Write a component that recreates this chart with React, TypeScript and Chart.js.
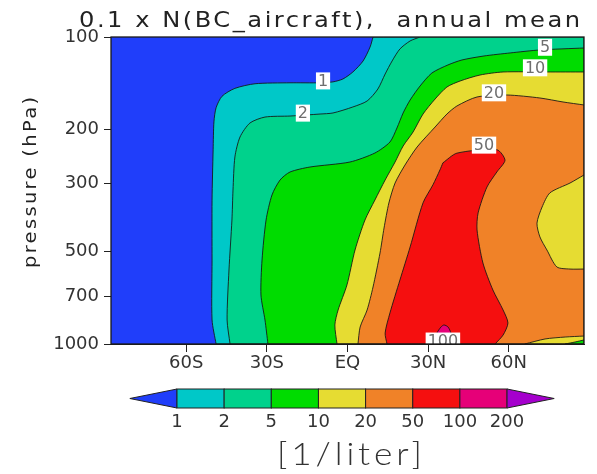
import React, { useEffect, useRef } from 'react';
import { Chart, registerables } from 'chart.js';

Chart.register(...registerables);

// ---------- axes ----------
const latMin = -88;
const latMax = 88;
const pTop = 100;
const pBottom = 1000;
const xTickValues = [-60, -30, 0, 30, 60];
const xTickLabels = ['60S', '30S', 'EQ', '30N', '60N'];
const yTickValues = [100, 200, 300, 500, 700, 1000];

// ---------- colour levels ----------
const levels = [1, 2, 5, 10, 20, 50, 100, 200];
const levelColors = [
  'rgb(32,62,250)',
  'rgb(0,200,200)',
  'rgb(0,210,140)',
  'rgb(0,220,0)',
  'rgb(230,220,50)',
  'rgb(240,130,40)',
  'rgb(245,15,15)',
  'rgb(230,0,120)',
  'rgb(165,0,205)',
];

// ---------- filled regions (latitude, hPa) ----------
const domainLat = [-88, 88, 88, -88];
const domainP = [100, 100, 1000, 1000];

const r1Lat = [9.5, 8.4, 5.8, 2.0, -1.7, -5.4, -10.2, -21.4, -34.4, -41.9, -46.7, -48.9, -49.7, -50.0, -50.4, -50.4, -50.4, -48.9, 88, 88];
const r1P = [100, 107.8, 119.7, 130, 137, 140, 141, 141, 142, 147, 156, 170, 189, 233, 340, 533, 835, 1000, 1000, 100];

const r2Lat = [27.0, 23.3, 19.5, 16.6, 14.0, 11.3, 7.3, 2.0, -5.4, -10.2, -21.4, -30.7, -36.3, -40.0, -41.9, -42.6, -43.0, -44.1, -44.8, -43.7, 88, 88];
const r2P = [100, 103, 109.4, 119.7, 132, 147.7, 161.6, 169, 176.8, 178.2, 180.9, 182.3, 190.6, 211.7, 245.9, 315.1, 394.6, 574.1, 835.3, 1000, 1000, 100];

const r5Lat = [88, 71.6, 60.5, 50.8, 42.6, 37.4, 31.4, 27.0, 23.3, 20.7, 18.4, 15.8, 10.2, 0.9, -14.0, -21.4, -25.1, -28.1, -30.3, -31.8, -32.2, -30.7, -29.6, 88];
const r5P = [108.6, 110.2, 112.7, 115.3, 118.8, 123.3, 131, 144.4, 160.4, 176.8, 197.9, 219.8, 238.7, 255.4, 265.2, 275.3, 292.3, 327.1, 394.6, 532.6, 692.6, 835.3, 1000, 1000];

const r10Lat = [88, 74.2, 57.9, 49.3, 41.9, 37.0, 32.6, 28.1, 24.4, 20.7, 17.7, 14.0, 10.2, 6.5, 2.8, -0.2, -3.5, -4.7, -3.9, 88];
const r10P = [130, 130, 130, 133, 139.1, 145.5, 159.2, 178.2, 203.9, 226.5, 255.4, 292.3, 339.6, 394.6, 494.2, 642, 775, 867, 1000, 1000];

const r20Lat = [88, 80.2, 71.6, 59.3, 48.2, 40.7, 37.0, 32.6, 25.9, 21.4, 17.7, 15.4, 13.6, 12.1, 9.5, 7.3, 4.7, 3.9, 88];
const r20P = [166.5, 162.8, 158, 154.5, 156.8, 167.8, 178.2, 196.4, 228.2, 261.2, 299, 347.3, 418.8, 505.4, 652.2, 774.9, 880.4, 1000, 1000];

const yellowBlobLat = [88, 82.8, 75.3, 72.4, 70.5, 71.6, 74.2, 77.9, 82.8, 88];
const yellowBlobP = [281.5, 299, 322, 358, 404, 448, 494, 561, 570, 570];

const yellowSliverLat = [66, 73.5, 81, 88, 88];
const yellowSliverP = [1000, 963, 949, 942, 1000];

const greenSliverLat = [81, 84.7, 88, 88];
const greenSliverP = [1000, 985, 970, 1000];

const r50Lat = [35.5, 40.7, 55.6, 58.6, 55.6, 51.9, 48.6, 48.2, 50.4, 54.1, 57.9, 59.7, 57.9, 54.9, 14.7, 14.0, 15.8, 19.5, 23.3, 28.1, 31.8, 34.4];
const r50P = [257, 239, 233, 252, 275, 308, 374, 425, 545, 667, 775, 854, 935, 1000, 1000, 921, 792, 619, 483, 347, 303, 271];

const r100Lat = [32.6, 33.3, 34.8, 35.9, 37.4, 38.5, 39.3];
const r100P = [1000, 921, 880, 867, 880, 921, 1000];

// ---------- contour labels ----------
const labelText = ['1', '2', '5', '10', '20', '50', '100'];
const labelLat = [-9.1, -16.6, 73.5, 69.8, 54.5, 50.8, 35.5];
const labelP = [139, 177, 108, 126, 152, 225, 978];

// ---------- texts ----------
const titleText = '0.1 x N(BC_aircraft),  annual mean';
const yTitleText = 'pressure (hPa)';
const unitText = '[1/liter]';

const regions = [
  { lat: domainLat, p: domainP, c: 0 },
  { lat: r1Lat, p: r1P, c: 1 },
  { lat: r2Lat, p: r2P, c: 2 },
  { lat: r5Lat, p: r5P, c: 3 },
  { lat: r10Lat, p: r10P, c: 4 },
  { lat: r20Lat, p: r20P, c: 5 },
  { lat: yellowBlobLat, p: yellowBlobP, c: 4 },
  { lat: yellowSliverLat, p: yellowSliverP, c: 4 },
  { lat: greenSliverLat, p: greenSliverP, c: 3 },
  { lat: r50Lat, p: r50P, c: 6 },
  { lat: r100Lat, p: r100P, c: 7 },
];

// a point lying on the frame keeps a sharp corner in the smoothed outline
const onFrame = (lat: number, p: number) =>
  lat <= latMin || lat >= latMax || p <= pTop || p >= pBottom;

function spacedText(ctx: CanvasRenderingContext2D, text: string, x: number, y: number, width: number, sx = 1) {
  const anyCtx = ctx as any;
  ctx.save();
  ctx.translate(x, y);
  ctx.scale(sx, 1);
  anyCtx.letterSpacing = '0px';
  const natural = ctx.measureText(text).width;
  const n = Array.from(text).length;
  const ls = n > 1 ? (width / sx - natural) / (n - 1) : 0;
  anyCtx.letterSpacing = ls.toFixed(2) + 'px';
  ctx.textAlign = 'left';
  ctx.fillText(text, 0, 0);
  anyCtx.letterSpacing = '0px';
  ctx.restore();
}

const decorPlugin = {
  id: 'decor',
  afterDatasetsDraw(chart: any) {
    const { ctx, chartArea: a, scales } = chart;
    const xs = scales.x;
    const ys = scales.y;
    ctx.save();
    ctx.beginPath();
    ctx.rect(a.left, a.top, a.right - a.left, a.bottom - a.top);
    ctx.clip();
    ctx.font = '16px "DejaVu Sans"';
    ctx.textAlign = 'center';
    ctx.textBaseline = 'middle';
    labelText.forEach((t, i) => {
      const px = xs.getPixelForValue(labelLat[i]);
      const py = ys.getPixelForValue(labelP[i]);
      const w = ctx.measureText(t).width + 4;
      const h = 17;
      ctx.fillStyle = '#ffffff';
      ctx.fillRect(px - w / 2, py - h / 2, w, h);
      ctx.fillStyle = '#6e6e6e';
      ctx.fillText(t, px, py + 1);
    });
    ctx.restore();

    ctx.save();
    ctx.strokeStyle = '#1a1a1a';
    ctx.lineWidth = 1.3;
    ctx.strokeRect(a.left, a.top, a.right - a.left, a.bottom - a.top);
    ctx.restore();
  },
  afterDraw(chart: any) {
    const ctx: CanvasRenderingContext2D = chart.ctx;
    ctx.save();
    ctx.fillStyle = '#222';
    ctx.textBaseline = 'alphabetic';

    // title
    ctx.font = '21px "DejaVu Sans"';
    spacedText(ctx, titleText, 79, 27, 501, 1.15);

    // y title
    ctx.save();
    ctx.translate(35.5, 268);
    ctx.rotate(-Math.PI / 2);
    ctx.font = '18px "DejaVu Sans"';
    spacedText(ctx, yTitleText, 0, 0, 171, 1.08);
    ctx.restore();

    // colour bar
    const barLeft = 177;
    const segW = 47.15;
    const top = 389;
    const bot = 408;
    const mid = (top + bot) / 2;
    const nSeg = levels.length - 1;
    const barRight = barLeft + nSeg * segW;
    ctx.strokeStyle = '#222';
    ctx.lineWidth = 1;
    ctx.beginPath();
    ctx.moveTo(barLeft - segW, mid);
    ctx.lineTo(barLeft, top);
    ctx.lineTo(barLeft, bot);
    ctx.closePath();
    ctx.fillStyle = levelColors[0];
    ctx.fill();
    ctx.stroke();
    for (let i = 0; i < nSeg; i++) {
      ctx.fillStyle = levelColors[i + 1];
      ctx.fillRect(barLeft + i * segW, top, segW, bot - top);
      ctx.strokeRect(barLeft + i * segW, top, segW, bot - top);
    }
    ctx.beginPath();
    ctx.moveTo(barRight, top);
    ctx.lineTo(barRight + segW, mid);
    ctx.lineTo(barRight, bot);
    ctx.closePath();
    ctx.fillStyle = levelColors[levelColors.length - 1];
    ctx.fill();
    ctx.stroke();

    ctx.fillStyle = '#333';
    ctx.font = '18px "DejaVu Sans"';
    ctx.textAlign = 'center';
    levels.forEach((lv, i) => {
      ctx.fillText(String(lv), barLeft + i * segW, 427);
    });

    // unit
    ctx.fillStyle = '#333';
    ctx.font = '300 32px Lato';
    spacedText(ctx, unitText, 277, 465, 145, 1.1);
    ctx.restore();
  },
};

export default function App() {
  const ref = useRef<HTMLCanvasElement>(null);
  useEffect(() => {
    const canvas = ref.current;
    if (!canvas) return;
    const n = regions.length;
    const datasets = regions.map((r, i) => {
      const pts: { x: number; y: number }[] = [];
      const all = r.lat.map((x, k) => ({ x, y: r.p[k] }));
      all.push({ x: r.lat[0], y: r.p[0] });
      all.forEach((pt) => {
        pts.push(pt);
        if (onFrame(pt.x, pt.y)) pts.push({ x: pt.x, y: pt.y });
      });
      return {
        data: pts,
        fill: 'shape',
        backgroundColor: levelColors[r.c],
        borderColor: 'rgba(20,20,20,0.85)',
        borderWidth: i === 0 ? 0 : 1,
        pointRadius: 0,
        tension: i === 0 ? 0 : 0.25,
        borderJoinStyle: 'round',
        order: n - i,
      };
    });
    const chart = new Chart(canvas, {
      type: 'line',
      data: { datasets: datasets as any },
      options: {
        responsive: false,
        animation: false,
        devicePixelRatio: 1,
        events: [],
        layout: { padding: { left: 0, right: 13, top: 37, bottom: 0 } },
        plugins: { legend: { display: false }, tooltip: { enabled: false }, title: { display: false } },
        scales: {
          x: {
            type: 'linear',
            min: latMin,
            max: latMax,
            afterBuildTicks: (axis: any) => {
              axis.ticks = xTickValues.map((v) => ({ value: v }));
            },
            afterFit: (axis: any) => {
              axis.height = 130;
            },
            ticks: {
              autoSkip: false,
              maxRotation: 0,
              padding: 1,
              color: '#333',
              font: { family: 'DejaVu Sans', size: 18 },
              callback: (v: any) => {
                const idx = xTickValues.indexOf(Number(v));
                return idx >= 0 ? xTickLabels[idx] : '';
              },
            },
            grid: { drawOnChartArea: false, tickLength: 8, tickColor: '#222', tickWidth: 1 },
            border: { display: true, color: '#222', width: 1 },
          },
          y: {
            type: 'logarithmic',
            reverse: true,
            min: pTop,
            max: pBottom,
            afterBuildTicks: (axis: any) => {
              axis.ticks = yTickValues.map((v) => ({ value: v }));
            },
            afterFit: (axis: any) => {
              axis.width = 111;
            },
            ticks: {
              autoSkip: false,
              padding: 5,
              color: '#333',
              font: { family: 'DejaVu Sans', size: 18 },
              callback: (v: any) => String(v),
            },
            grid: { drawOnChartArea: false, tickLength: 7, tickColor: '#222', tickWidth: 1 },
            border: { display: true, color: '#222', width: 1 },
          },
        },
      },
      plugins: [decorPlugin],
    } as any);
    return () => chart.destroy();
  }, []);
  return (
    <div style={{ position: 'absolute', left: 0, top: 0, width: 597, height: 474, background: '#fff' }}>
      <canvas ref={ref} width={597} height={474} style={{ width: 597, height: 474, display: 'block' }} />
    </div>
  );
}
